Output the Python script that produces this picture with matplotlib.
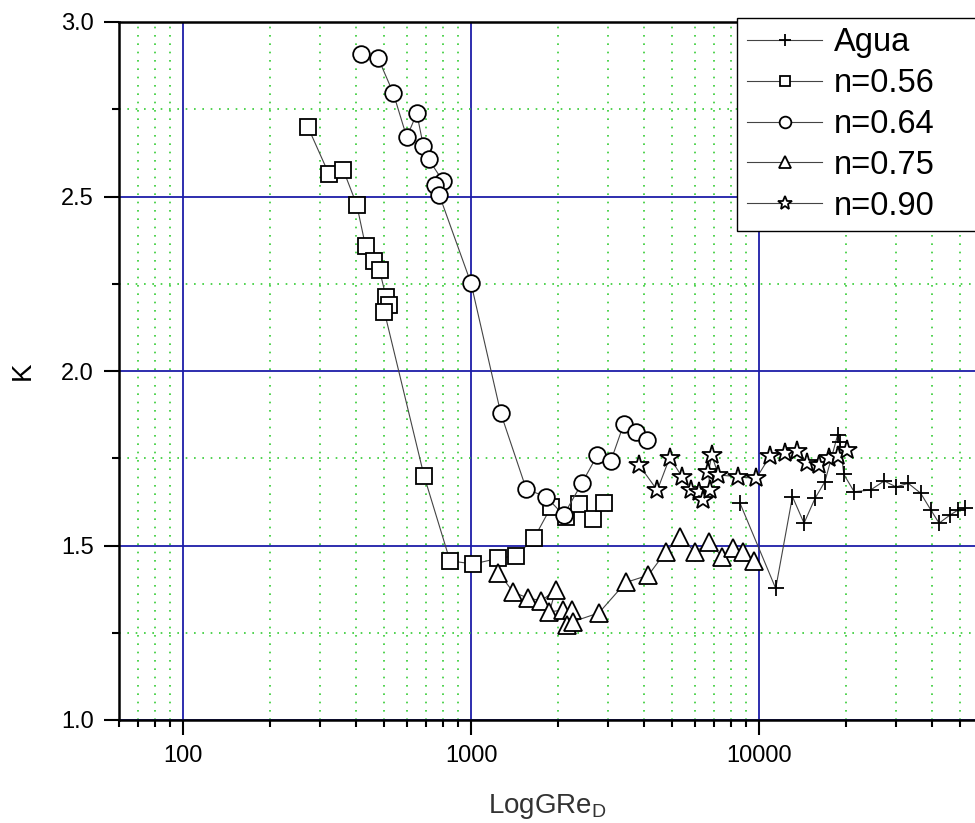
import matplotlib
matplotlib.use('Agg')
import matplotlib.pyplot as plt
from matplotlib.ticker import LogLocator, MultipleLocator, NullFormatter, FixedLocator

plt.rcParams['font.family'] = ['Liberation Sans', 'DejaVu Sans']

# %% data
agua_x = [8592, 11427, 13062, 14333, 15644, 16934, 18756, 19100, 19700, 21400,
          24400, 27200, 29900, 33000, 36400, 39500, 42200, 46000, 49200, 51900]
agua_k = [1.621, 1.377, 1.640, 1.564, 1.635, 1.683, 1.817, 1.797, 1.704, 1.654,
          1.659, 1.685, 1.668, 1.678, 1.650, 1.602, 1.564, 1.587, 1.602, 1.607]

n056_x = [271, 321, 360, 401, 430, 461, 481, 507, 517, 500, 687, 845, 1018,
          1239, 1436, 1655, 1892, 2133, 2378, 2647, 2896]
n056_k = [2.700, 2.564, 2.576, 2.476, 2.358, 2.315, 2.289, 2.211, 2.190, 2.170,
          1.699, 1.456, 1.447, 1.463, 1.471, 1.521, 1.609, 1.583, 1.619, 1.576, 1.621]

n064_x = [414, 476, 537, 598, 648, 683, 712, 797, 750, 776, 1000, 1268, 1556,
          1820, 2097, 2423, 2746, 3057, 3391, 3740, 4085]
n064_k = [2.908, 2.896, 2.796, 2.670, 2.738, 2.645, 2.607, 2.545, 2.533, 2.504,
          2.251, 1.879, 1.661, 1.640, 1.587, 1.678, 1.759, 1.742, 1.848, 1.825, 1.802]

n075_x = [1245, 1403, 1582, 1755, 1968, 1871, 2091, 2237, 2146, 2264, 2780,
          3444, 4128, 4734, 5335, 5990, 6729, 7448, 8113, 8831, 9640]
n075_k = [1.422, 1.366, 1.349, 1.342, 1.373, 1.310, 1.315, 1.315, 1.271, 1.282,
          1.307, 1.394, 1.415, 1.481, 1.525, 1.481, 1.509, 1.468, 1.492, 1.482, 1.456]

n090_x = [3831, 4433, 4897, 5402, 5805, 6164, 6414, 6764, 6676, 6853, 7227,
          8486, 9774, 10919, 12336, 13578, 14714, 16203, 17540, 18864, 20150]
n090_k = [1.731, 1.658, 1.752, 1.697, 1.659, 1.654, 1.630, 1.659, 1.712, 1.759,
          1.702, 1.697, 1.692, 1.756, 1.764, 1.771, 1.737, 1.731, 1.750, 1.756, 1.774]

series = [
    (agua_x, agua_k, '+', 'Agua', 12),
    (n056_x, n056_k, 's', 'n=0.56', 11),
    (n064_x, n064_k, 'o', 'n=0.64', 12),
    (n075_x, n075_k, '^', 'n=0.75', 13),
    (n090_x, n090_k, '*', 'n=0.90', 15),
]

# %%
fig = plt.figure(figsize=(9.75, 8.23), dpi=100)
ax = fig.add_axes([119 / 975, 103 / 823, 856 / 975, 698 / 823])

for x, k, m, lab, ms in series:
    ax.plot(x, k, '-', color='#444444', lw=0.8, marker=m, ms=ms,
            mfc='white', mec='black', mew=1.3, label=lab, zorder=3)

ax.set_xscale('log')
ax.set_xlim(59.9, 56234)
ax.set_ylim(1.0, 3.0)

ax.xaxis.set_major_locator(FixedLocator([100, 1000, 10000]))
ax.xaxis.set_major_formatter(plt.FuncFormatter(lambda v, p: '%d' % v))
ax.xaxis.set_minor_locator(LogLocator(base=10, subs=range(2, 10), numticks=20))
ax.xaxis.set_minor_formatter(NullFormatter())
ax.yaxis.set_major_locator(MultipleLocator(0.5))
ax.yaxis.set_minor_locator(MultipleLocator(0.25))
ax.yaxis.set_major_formatter(plt.FuncFormatter(lambda v, p: '%.1f' % v))

ax.grid(True, which='major', color='#1c1ca8', lw=1.3, ls='-', zorder=0)
ax.grid(True, which='minor', color='#33cc33', lw=1.2, ls=(0, (1, 4)), zorder=0)
ax.set_axisbelow(True)

ax.tick_params(which='major', direction='out', length=11, width=1.5, labelsize=17, pad=7)
ax.tick_params(which='minor', direction='out', length=5, width=1.5)
for s in ['left', 'bottom', 'top']:
    ax.spines[s].set_linewidth(1.8)
ax.spines['right'].set_visible(False)

ax.set_xlabel(r'LogGRe$_{\mathregular{D}}$', fontsize=20, labelpad=18, color='#333333')
ax.set_ylabel('K', fontsize=20, labelpad=18)

leg = ax.legend(loc='upper left', bbox_to_anchor=(0.7225, 0.5, 0.4, 0.5063),
                mode='expand', borderaxespad=0,
                fontsize=23.5, handlelength=2.3, handletextpad=0.35, labelspacing=0.3,
                markerscale=0.7, fancybox=False, framealpha=1, edgecolor='black',
                borderpad=0.3)
leg.get_frame().set_linewidth(1.0)

fig.savefig('out.png', dpi=100)
